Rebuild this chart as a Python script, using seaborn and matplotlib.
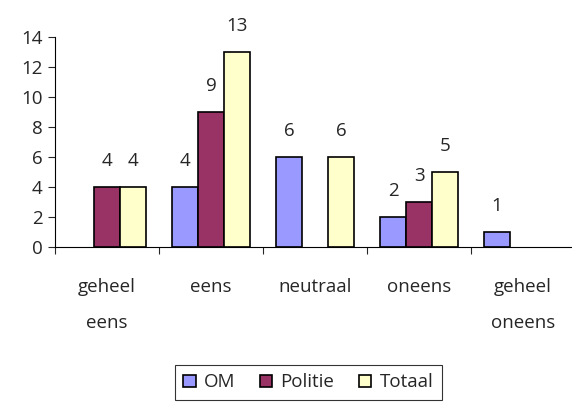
import pandas as pd
import seaborn as sns
import matplotlib.pyplot as plt

# data
categories = ['geheel\neens', 'eens', 'neutraal', 'oneens', 'geheel\noneens']
om = [0, 4, 6, 2, 1]
politie = [4, 9, 0, 3, 0]
totaal = [4, 13, 6, 5, 0]
series = ['OM', 'Politie', 'Totaal']
colors = ['#9999FF', '#993366', '#FFFFCC']

df = pd.DataFrame({
    'Categorie': categories * 3,
    'Groep': ['OM'] * 5 + ['Politie'] * 5 + ['Totaal'] * 5,
    'Aantal': om + politie + totaal,
})

sns.set_style('white')
plt.rcParams['font.family'] = ['Open Sans', 'DejaVu Sans']
fs = 13.5

fig = plt.figure(figsize=(5.72, 4.07), dpi=100)
ax = fig.add_axes([55 / 572, 1 - 247 / 407, 1 - 55 / 572, 210 / 407])

sns.barplot(data=df, x='Categorie', y='Aantal', hue='Groep', order=categories,
            hue_order=series, palette=colors, width=0.75, edgecolor='black',
            linewidth=1.2, saturation=1, ax=ax, legend=True)

# waarden boven de staven, nullen niet tonen
for cont in ax.containers:
    for b in cont:
        if b.get_height() == 0:
            b.set_visible(False)
    labs = ['' if b.get_height() == 0 else '%d' % b.get_height() for b in cont]
    ax.bar_label(cont, labels=labs, padding=12, fontsize=fs)

ax.set_ylim(0, 14)
ax.set_yticks(range(0, 15, 2))
ax.set_xlim(-0.5, 4.47)
ax.set_xlabel('')
ax.set_ylabel('')
ax.tick_params(axis='y', labelsize=fs, length=5, width=0.8, direction='out',
               left=True, pad=4)
ax.tick_params(axis='x', which='major', length=0, labelsize=fs, pad=22)
ax.set_xticks([i + 0.5 for i in range(-1, 4)], minor=True)
ax.tick_params(axis='x', which='minor', length=5, width=0.8, direction='out',
               bottom=True)
for lab in ax.get_xticklabels():
    lab.set_linespacing(2.3)

sns.despine(ax=ax)
ax.spines['left'].set_color('black')
ax.spines['bottom'].set_color('black')
ax.spines['left'].set_linewidth(0.8)
ax.spines['bottom'].set_linewidth(0.8)

ax.legend(loc='center', bbox_to_anchor=(0.49, -0.645), ncol=3, frameon=True,
          fancybox=False, edgecolor='black', fontsize=fs, handlelength=0.65,
          handleheight=0.65, handletextpad=0.45, columnspacing=1.3,
          borderpad=0.45)
ax.get_legend().get_frame().set_linewidth(0.8)

fig.savefig('out.png', dpi=100)
